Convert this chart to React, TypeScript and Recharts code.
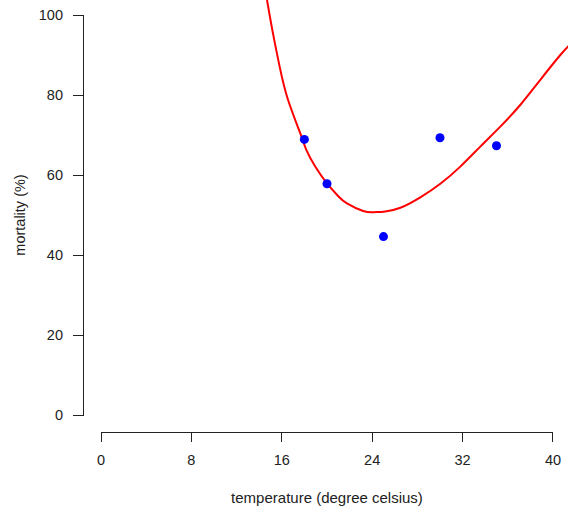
import { ComposedChart, Line, Scatter, XAxis, YAxis, ReferenceLine, Label } from "recharts";

const X_TICKS = [0, 8, 16, 24, 32, 40];
const Y_TICKS = [0, 20, 40, 60, 80, 100];

// observed mortality at each rearing temperature
const observed = [
  { temp: 18, mortality: 68.9 },
  { temp: 20, mortality: 57.8 },
  { temp: 25, mortality: 44.6 },
  { temp: 30, mortality: 69.3 },
  { temp: 35, mortality: 67.3 },
];

// fitted curve
const fitted = [
  { temp: 14.69, mortality: 103.75 },
  { temp: 15.22, mortality: 95.4 },
  { temp: 15.81, mortality: 87.1 },
  { temp: 16.55, mortality: 78.8 },
  { temp: 17.64, mortality: 70.4 },
  { temp: 18.17, mortality: 66.3 },
  { temp: 18.96, mortality: 62.1 },
  { temp: 20.0, mortality: 57.9 },
  { temp: 21.0, mortality: 54.7 },
  { temp: 21.77, mortality: 52.9 },
  { temp: 23.2, mortality: 51.0 },
  { temp: 24.2, mortality: 50.7 },
  { temp: 25.16, mortality: 50.9 },
  { temp: 26.5, mortality: 51.8 },
  { temp: 28.26, mortality: 54.4 },
  { temp: 30.03, mortality: 57.8 },
  { temp: 31.8, mortality: 62.1 },
  { temp: 33.57, mortality: 67.1 },
  { temp: 35.34, mortality: 72.1 },
  { temp: 37.1, mortality: 77.5 },
  { temp: 38.88, mortality: 83.8 },
  { temp: 40.65, mortality: 90.0 },
  { temp: 41.4, mortality: 92.3 },
];

const FONT = "'Liberation Sans', Arial, sans-serif";
const INK = "#222";
const FS = 14.5;

function XTick({ x, y, payload }: any) {
  return (
    <g>
      <line x1={x} y1={y + 17.5} x2={x} y2={y + 27} stroke={INK} shapeRendering="crispEdges" />
      <text x={x} y={y + 45} textAnchor="middle" dominantBaseline="central" fill={INK} fontSize={FS} fontFamily={FONT}>
        {payload.value}
      </text>
    </g>
  );
}

function YTick({ x, y, payload }: any) {
  return (
    <g>
      <line x1={x - 17.5} y1={y} x2={x - 28} y2={y} stroke={INK} shapeRendering="crispEdges" />
      <text x={x - 38} y={y} textAnchor="end" dominantBaseline="central" fill={INK} fontSize={FS} fontFamily={FONT}>
        {payload.value}
      </text>
    </g>
  );
}

function XTitle({ viewBox }: any) {
  return (
    <text x={viewBox.x + 226} y={viewBox.y + 82} textAnchor="middle" dominantBaseline="central" fill={INK} fontSize={15} fontFamily={FONT}>
      temperature (degree celsius)
    </text>
  );
}

function YTitle() {
  return (
    <text x={20} y={215} transform="rotate(-90, 20, 215)" textAnchor="middle" dominantBaseline="central" fill={INK} fontSize={FS} fontFamily={FONT}>
      mortality (%)
    </text>
  );
}

export default function App() {
  return (
    <div style={{ position: "absolute", left: 0, top: 0, background: "#fff" }}>
      <ComposedChart width={568} height={512} margin={{ top: 0, right: 0, bottom: 0, left: 0 }}>
        <XAxis
          type="number"
          dataKey="temp"
          domain={[0, 41.33]}
          allowDataOverflow
          ticks={X_TICKS}
          interval={0}
          height={97}
          axisLine={false}
          tickLine={false}
          tickSize={0}
          tickMargin={0}
          tick={<XTick />}
        >
          <Label content={<XTitle />} />
        </XAxis>
        <YAxis
          type="number"
          dataKey="mortality"
          domain={[0, 103.75]}
          allowDataOverflow
          ticks={Y_TICKS}
          interval={0}
          width={101}
          axisLine={false}
          tickLine={false}
          tickSize={0}
          tickMargin={0}
          tick={<YTick />}
        >
          <Label content={<YTitle />} />
        </YAxis>
        <ReferenceLine
          segment={[{ x: 0, y: -4.375 }, { x: 40, y: -4.375 }]}
          ifOverflow="visible"
          stroke={INK}
          shapeRendering="crispEdges"
        />
        <ReferenceLine
          segment={[{ x: -1.55, y: 0 }, { x: -1.55, y: 100 }]}
          ifOverflow="visible"
          stroke={INK}
          shapeRendering="crispEdges"
        />
        <Line
          data={fitted}
          dataKey="mortality"
          type="natural"
          stroke="#ff0000"
          strokeWidth={2}
          dot={false}
          activeDot={false}
          isAnimationActive={false}
        />
        <Scatter data={observed} dataKey="mortality" fill="#0000ff" isAnimationActive={false} />
      </ComposedChart>
    </div>
  );
}
